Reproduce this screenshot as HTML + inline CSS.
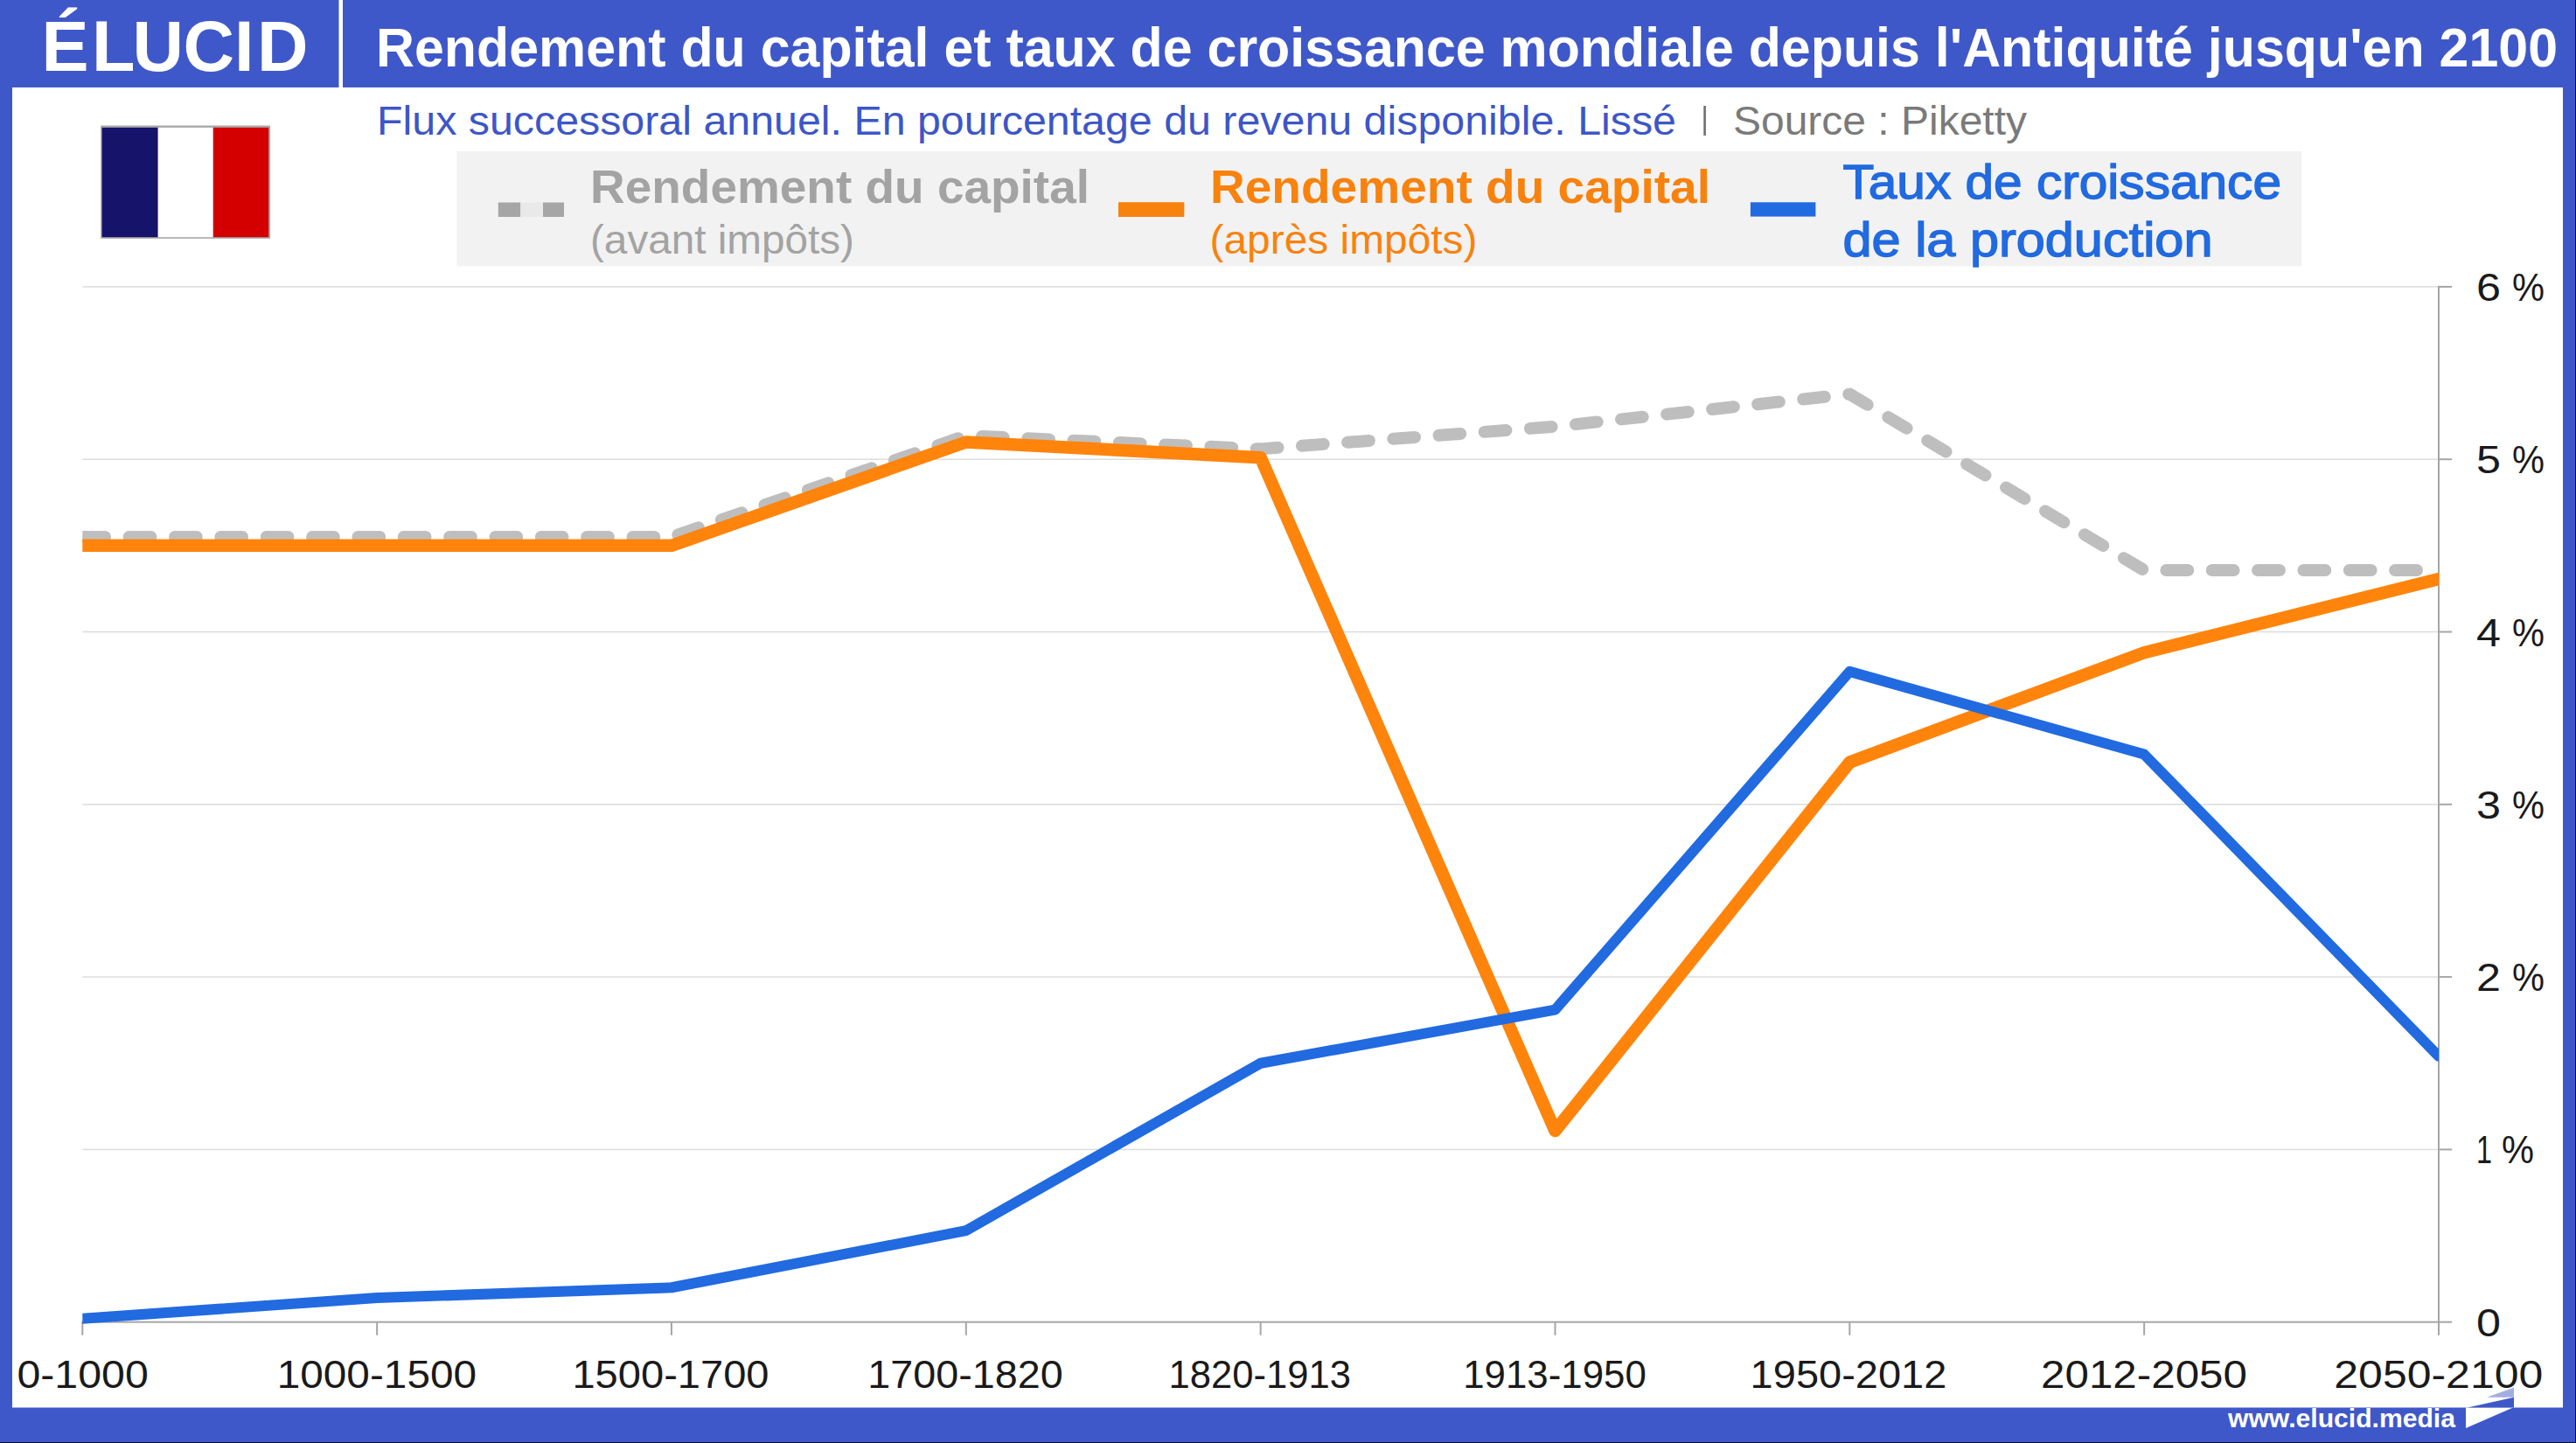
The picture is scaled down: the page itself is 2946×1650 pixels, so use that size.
<!DOCTYPE html>
<html lang="fr"><head><meta charset="utf-8"><title>Rendement du capital et taux de croissance mondiale</title>
<style>
html,body{margin:0;padding:0;background:#fff;}
body{width:2946px;height:1650px;overflow:hidden;}
svg{display:block;}
text{font-family:'Liberation Sans', Arial, sans-serif;}
</style></head><body>
<svg width="2946" height="1650" viewBox="0 0 2946 1650">
<defs><clipPath id="plot"><rect x="94.3" y="250" width="2694.70" height="1300"/></clipPath></defs>
<rect x="0" y="0" width="2946" height="1650" fill="#3f58c9"/>
<rect x="14" y="100" width="2917" height="1509.5" fill="#ffffff"/>
<rect x="0" y="1649" width="2946" height="1" fill="#0a0a3c"/>
<rect x="2945" y="0" width="1" height="1650" fill="#0a0a3c"/>
<rect x="387.5" y="0" width="4.5" height="100" fill="#ffffff"/>
<text x="47.5 105 151.5 209.5 268 294" y="81" font-size="81" font-weight="700" fill="#fff">ÉLUCID</text>
<text x="430" y="76" font-size="62.5" font-weight="700" fill="#fff" textLength="2495" lengthAdjust="spacingAndGlyphs">Rendement du capital et taux de croissance mondiale depuis l'Antiquité jusqu'en 2100</text>
<text x="431" y="153.9" font-size="45.5" fill="#3d56c6" textLength="1486" lengthAdjust="spacingAndGlyphs">Flux successoral annuel. En pourcentage du revenu disponible. Lissé</text>
<rect x="1948.3" y="121" width="2.6" height="34" fill="#6f6f6f"/>
<text x="1982" y="153.9" font-size="45.5" fill="#7a7a7a" textLength="336" lengthAdjust="spacingAndGlyphs">Source : Piketty</text>
<rect x="115.2" y="143.5" width="193.8" height="129.3" fill="#a8a8a8"/>
<rect x="116.6" y="145.9" width="64.1" height="125.3" fill="#15136a"/>
<rect x="180.7" y="145.9" width="63.1" height="125.3" fill="#ffffff"/>
<rect x="243.8" y="145.9" width="63.4" height="125.3" fill="#d40000"/>
<rect x="522.3" y="172.9" width="2110" height="131.5" fill="#f2f2f2"/>
<rect x="569.8" y="231.5" width="25.5" height="16.5" fill="#a6a6a6"/>
<rect x="595.3" y="231.5" width="25.7" height="16.5" fill="#e9e9e9"/>
<rect x="621" y="231.5" width="24" height="16.5" fill="#a6a6a6"/>
<rect x="1279" y="231.2" width="75.3" height="16.8" fill="#f8820e"/>
<rect x="2001.9" y="231.3" width="74.5" height="16.3" fill="#216ae0"/>
<text x="675" y="232" font-size="53.5" font-weight="700" fill="#a3a3a3" textLength="571" lengthAdjust="spacingAndGlyphs">Rendement du capital</text>
<text x="675" y="290.3" font-size="47" fill="#a3a3a3" textLength="302" lengthAdjust="spacingAndGlyphs">(avant impôts)</text>
<text x="1384" y="232" font-size="53.5" font-weight="700" fill="#f8820e" textLength="572" lengthAdjust="spacingAndGlyphs">Rendement du capital</text>
<text x="1383.5" y="290.3" font-size="47" fill="#f8820e" textLength="306" lengthAdjust="spacingAndGlyphs">(après impôts)</text>
<text x="2107.5" y="227.3" font-size="55" font-weight="400" fill="#216ae0" stroke="#216ae0" stroke-width="1.4" textLength="501.5" lengthAdjust="spacingAndGlyphs">Taux de croissance</text>
<text x="2107.5" y="293.3" font-size="55" font-weight="400" fill="#216ae0" stroke="#216ae0" stroke-width="1.4" textLength="423" lengthAdjust="spacingAndGlyphs">de la production</text>
<rect x="94.3" y="1313.65" width="2694.7" height="1.5" fill="#dcdcdc"/>
<rect x="94.3" y="1116.35" width="2694.7" height="1.5" fill="#dcdcdc"/>
<rect x="94.3" y="919.05" width="2694.7" height="1.5" fill="#dcdcdc"/>
<rect x="94.3" y="721.75" width="2694.7" height="1.5" fill="#dcdcdc"/>
<rect x="94.3" y="524.45" width="2694.7" height="1.5" fill="#dcdcdc"/>
<rect x="94.3" y="327.15" width="2694.7" height="1.5" fill="#dcdcdc"/>
<rect x="93.3" y="1510.70" width="2695.7" height="2" fill="#a6a6a6"/>
<rect x="2788.0" y="326.90" width="2" height="1184.8" fill="#a6a6a6"/>
<rect x="93.30" y="1511.70" width="2" height="15" fill="#a6a6a6"/>
<rect x="430.14" y="1511.70" width="2" height="15" fill="#a6a6a6"/>
<rect x="766.97" y="1511.70" width="2" height="15" fill="#a6a6a6"/>
<rect x="1103.81" y="1511.70" width="2" height="15" fill="#a6a6a6"/>
<rect x="1440.65" y="1511.70" width="2" height="15" fill="#a6a6a6"/>
<rect x="1777.49" y="1511.70" width="2" height="15" fill="#a6a6a6"/>
<rect x="2114.32" y="1511.70" width="2" height="15" fill="#a6a6a6"/>
<rect x="2451.16" y="1511.70" width="2" height="15" fill="#a6a6a6"/>
<rect x="2788.00" y="1511.70" width="2" height="15" fill="#a6a6a6"/>
<rect x="2789.0" y="1510.70" width="15" height="2" fill="#a6a6a6"/>
<rect x="2789.0" y="1313.40" width="15" height="2" fill="#a6a6a6"/>
<rect x="2789.0" y="1116.10" width="15" height="2" fill="#a6a6a6"/>
<rect x="2789.0" y="918.80" width="15" height="2" fill="#a6a6a6"/>
<rect x="2789.0" y="721.50" width="15" height="2" fill="#a6a6a6"/>
<rect x="2789.0" y="524.20" width="15" height="2" fill="#a6a6a6"/>
<rect x="2789.0" y="326.90" width="15" height="2" fill="#a6a6a6"/>
<g clip-path="url(#plot)" fill="none" stroke-linejoin="round">
<polyline points="94.30,613.99 431.14,613.99 767.97,613.99 1104.81,498.17 1441.65,513.36 1778.49,487.71 2115.32,450.62 2452.16,652.06 2789.00,652.06" stroke="#bebebe" stroke-width="14" stroke-linecap="round" stroke-dasharray="24.8 27.55" stroke-dashoffset="-1"/>
<polyline points="94.30,623.85 431.14,623.85 767.97,623.85 1104.81,505.47 1441.65,523.23 1778.49,1293.09 2115.32,871.66 2452.16,746.18 2789.00,662.13" stroke="#ff840c" stroke-width="14.5" stroke-linecap="round"/>
<polyline points="94.30,1507.75 431.14,1484.08 767.97,1472.24 1104.81,1407.13 1441.65,1215.75 1778.49,1154.59 2115.32,767.88 2452.16,862.58 2789.00,1207.86" stroke="#216ae0" stroke-width="12" stroke-linecap="round"/>
</g>
<text x="94.60" y="1587.3" font-size="45" fill="#1a1a1a" text-anchor="middle" textLength="150.4" lengthAdjust="spacingAndGlyphs">0-1000</text>
<text x="430.90" y="1587.3" font-size="45" fill="#1a1a1a" text-anchor="middle" textLength="228.4" lengthAdjust="spacingAndGlyphs">1000-1500</text>
<text x="767.00" y="1587.3" font-size="45" fill="#1a1a1a" text-anchor="middle" textLength="225.1" lengthAdjust="spacingAndGlyphs">1500-1700</text>
<text x="1104.00" y="1587.3" font-size="45" fill="#1a1a1a" text-anchor="middle" textLength="223.7" lengthAdjust="spacingAndGlyphs">1700-1820</text>
<text x="1440.70" y="1587.3" font-size="45" fill="#1a1a1a" text-anchor="middle" textLength="208.5" lengthAdjust="spacingAndGlyphs">1820-1913</text>
<text x="1778.00" y="1587.3" font-size="45" fill="#1a1a1a" text-anchor="middle" textLength="209.5" lengthAdjust="spacingAndGlyphs">1913-1950</text>
<text x="2114.00" y="1587.3" font-size="45" fill="#1a1a1a" text-anchor="middle" textLength="224.8" lengthAdjust="spacingAndGlyphs">1950-2012</text>
<text x="2452.00" y="1587.3" font-size="45" fill="#1a1a1a" text-anchor="middle" textLength="235.9" lengthAdjust="spacingAndGlyphs">2012-2050</text>
<text x="2788.80" y="1587.3" font-size="45" fill="#1a1a1a" text-anchor="middle" textLength="239.0" lengthAdjust="spacingAndGlyphs">2050-2100</text>
<text x="2832" y="1527.70" font-size="45" fill="#1a1a1a" textLength="28" lengthAdjust="spacingAndGlyphs">0</text>
<text x="2832" y="1330.40" font-size="45" fill="#1a1a1a" textLength="18" lengthAdjust="spacingAndGlyphs">1</text>
<text x="2861" y="1330.40" font-size="45" fill="#1a1a1a" textLength="37" lengthAdjust="spacingAndGlyphs">%</text>
<text x="2832" y="1133.10" font-size="45" fill="#1a1a1a" textLength="28" lengthAdjust="spacingAndGlyphs">2</text>
<text x="2873" y="1133.10" font-size="45" fill="#1a1a1a" textLength="37" lengthAdjust="spacingAndGlyphs">%</text>
<text x="2832" y="935.80" font-size="45" fill="#1a1a1a" textLength="28" lengthAdjust="spacingAndGlyphs">3</text>
<text x="2873" y="935.80" font-size="45" fill="#1a1a1a" textLength="37" lengthAdjust="spacingAndGlyphs">%</text>
<text x="2832" y="738.50" font-size="45" fill="#1a1a1a" textLength="28" lengthAdjust="spacingAndGlyphs">4</text>
<text x="2873" y="738.50" font-size="45" fill="#1a1a1a" textLength="37" lengthAdjust="spacingAndGlyphs">%</text>
<text x="2832" y="541.20" font-size="45" fill="#1a1a1a" textLength="28" lengthAdjust="spacingAndGlyphs">5</text>
<text x="2873" y="541.20" font-size="45" fill="#1a1a1a" textLength="37" lengthAdjust="spacingAndGlyphs">%</text>
<text x="2832" y="343.90" font-size="45" fill="#1a1a1a" textLength="28" lengthAdjust="spacingAndGlyphs">6</text>
<text x="2873" y="343.90" font-size="45" fill="#1a1a1a" textLength="37" lengthAdjust="spacingAndGlyphs">%</text>
<text x="2548" y="1632" font-size="29" font-weight="700" fill="#ffffff" textLength="260" lengthAdjust="spacingAndGlyphs">www.elucid.media</text>
<polygon points="2820,1609.5 2874,1609.5 2820,1633" fill="#ffffff"/>
<polygon points="2822,1609.5 2875,1597.7 2875,1609.5" fill="#3f58c9"/>
<polygon points="2844,1597.7 2875,1586.4 2875,1597.7" fill="#a3aee0"/>
</svg>
</body></html>
